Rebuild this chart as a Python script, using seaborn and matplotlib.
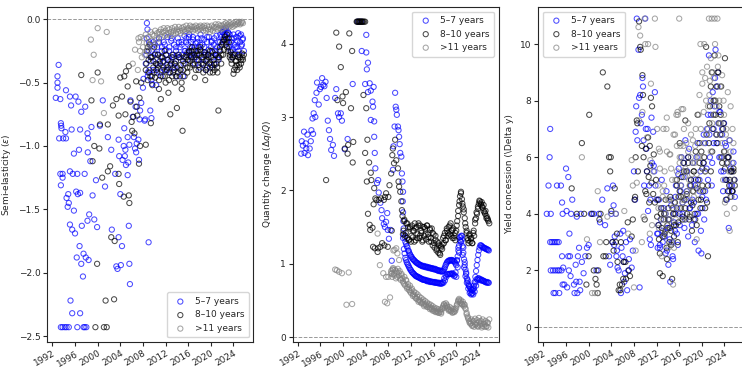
import numpy as np
import pandas as pd
import matplotlib
matplotlib.use("Agg")
import matplotlib.pyplot as plt
import seaborn as sns

sns.set_style("ticks")
plt.rcParams['font.family'] = ['DejaVu Sans']
plt.rcParams['font.size'] = 6.5

groups = ["5–7 years", "8–10 years", ">11 years"]
colors = {"5–7 years": "blue", "8–10 years": "black", ">11 years": "gray"}
xticks = [1992, 1996, 2000, 2004, 2008, 2012, 2016, 2020, 2024]
ylabels = ["Semi-elasticity ($\\varepsilon$)", "Quantity change ($\\Delta q/Q$)", "Yield concession (\\Delta y)"]

# ---------------- Panel 1: semi-elasticity ----------------
p1_blue_sparse = [(1992.6,-0.62),(1993.1,-0.36),(1992.9,-0.45),(1992.9,-0.50),(1992.9,-0.54),(1993.4,-0.63),
    (1993.2,-0.94),(1993.5,-0.82),(1993.6,-0.86),(1993.55,-0.84),(1993.9,-0.94),(1994.3,-0.89),(1994.4,-0.94),
    (1994.4,-0.56),(1995.1,-0.61),(1995.3,-0.68),(1995.4,-0.87),(1993.4,-1.22),(1993.8,-1.22),(1993.5,-1.31),
    (1993.8,-1.25),(1994.5,-1.41),(1994.8,-1.38),(1994.7,-1.48),(1994.9,-1.45),(1995.1,-1.20),(1995.1,-1.62),
    (1995.5,-1.66),(1995.6,-1.22),(1995.8,-1.06),(1995.8,-1.51),(1996.0,-1.69),(1996.2,-1.36),(1996.4,-1.22),
    (1996.5,-1.38),(1996.3,-1.88),(1996.1,-0.61),(1996.6,-0.65),(1996.7,-1.03),(1996.9,-0.87),(1997.1,-0.73),
    (1996.8,-1.79),(1996.9,-1.37),(1997.1,-1.93),(1997.2,-1.63),(1997.4,-2.03),(1997.5,-1.85),(1997.7,-1.22),
    (1997.8,-0.69),(1997.9,-1.88),(1998.2,-1.59),(1998.2,-0.90),(1998.3,-0.94),(1998.25,-1.05),(1998.4,-1.90),
    (1998.5,-1.54),(1998.7,-1.12),(1998.9,-0.85),(1999.1,-1.39),(1999.4,-1.58),(1999.7,-1.27),(1999.9,-1.64),
    (2000.4,-0.84),(2000.9,-0.64),(2001.3,-1.32),(2001.8,-0.93),(2002.4,-1.03),(2002.5,-1.66),(2003.1,-1.22),
    (2003.3,-1.95),(2003.5,-1.97),(2003.7,-1.72),(2003.7,-0.95),(2003.8,-1.08),(2004.0,-1.38),(2004.1,-1.94),
    (2004.3,-1.79),(2004.4,-1.11),(2004.6,-1.00),(2004.7,-0.86),(2004.8,-1.08),(2004.9,-1.03),(2005.0,-1.15),
    (2005.3,-1.23),(2005.4,-1.13),(2005.3,-0.93),(2005.5,-1.63),(2005.6,-1.93),(2005.7,-2.09),(2005.6,-0.99),
    (2005.8,-0.64),(2006.2,-0.77),(2006.4,-0.93),(2006.6,-1.02),(2006.7,-0.69),(2006.8,-1.05),(2006.9,-0.98),
    (2007.2,-0.95),(2007.3,-1.11),(2007.4,-0.79),(2007.5,-0.72),(2007.7,-0.66),(2008.0,-0.54),(2008.1,-0.47),
    (2008.3,-0.80),(2008.4,-0.79),(2008.7,-0.03),(2008.8,-0.08),(2009.0,-1.76),(2009.3,-0.72),(2009.5,-0.78),
    (2009.6,-0.51),(1993.5,-2.43),(1993.8,-2.43),(1994.2,-2.43),(1994.5,-2.43),(1994.9,-2.43),(1996.4,-2.43),
    (1997.5,-2.43),(1997.7,-2.43),(1998.0,-2.43),(1995.2,-2.22),(1995.5,-2.32),(1996.9,-2.32)]
p1_black_sparse = [(1997.1,-0.44),(1998.9,-0.64),(1999.4,-1.00),(1999.1,-1.12),(2000.0,-0.42),(2000.3,-1.02),
    (2000.4,-0.83),(1999.9,-1.93),(1999.6,-2.43),(2000.8,-1.25),(2001.1,-2.43),(2001.6,-2.43),(2001.4,-2.22),
    (2001.8,-1.20),(2001.8,-0.83),(2002.2,-1.16),(2002.4,-1.72),(2002.7,-0.68),(2003.0,-1.75),(2002.9,-2.21),
    (2003.3,-0.63),(2003.7,-0.76),(2003.8,-1.30),(2003.7,-1.22),(2004.0,-0.46),(2004.3,-0.61),(2004.6,-1.40),
    (2004.7,-0.45),(2004.9,-0.75),(2005.0,-0.41),(2005.3,-0.53),(2005.5,-1.39),(2005.6,-1.45),(2005.5,-0.37),
    (2005.8,-0.65),(2006.0,-0.81),(2006.1,-0.88),(2006.3,-0.77),(2006.5,-0.90),(2006.8,-0.49),(2006.9,-0.69),
    (2007.0,-0.76),(2007.3,-1.14),(2007.4,-0.62),(2007.5,-1.00),(2007.7,-0.50),(2008.5,-0.99),(2009.4,-0.82)]
p1_gray_sparse = [(1998.8,-0.16),(1999.3,-0.28),(1999.1,-0.48),(2000.0,-0.07),(2000.6,-0.49),(2001.1,-0.74),
    (2001.6,-0.10),(2006.2,-0.35),(2006.6,-0.24),(2007.1,-0.40),(2007.3,-0.18),(2007.6,-0.14),(2007.8,-0.30),
    (2007.2,-0.15),(2007.5,-0.25)]

p1_blue_dense = [-0.35,-0.15,-0.45,-0.25,-0.40,-0.20, -0.48,-0.30,-0.18,-0.42,-0.27,-0.52,
    -0.22,-0.38,-0.15,-0.33,-0.45,-0.25, -0.30,-0.18,-0.40,-0.24,-0.36,-0.14,
    -0.32,-0.22,-0.42,-0.17,-0.28,-0.38, -0.20,-0.35,-0.25,-0.45,-0.15,-0.30,
    -0.22,-0.40,-0.18,-0.28,-0.35,-0.13, -0.25,-0.15,-0.32,-0.20,-0.12,-0.28,
    -0.18,-0.30,-0.14,-0.24,-0.35,-0.19, -0.27,-0.15,-0.22,-0.38,-0.12,-0.25,
    -0.20,-0.32,-0.16,-0.26,-0.40,-0.18, -0.28,-0.14,-0.34,-0.22,-0.17,-0.30,
    -0.20,-0.36,-0.25,-0.13,-0.30,-0.18, -0.24,-0.12,-0.20,-0.10,-0.16,-0.08,
    -0.13,-0.07,-0.18,-0.10,-0.22,-0.12, -0.25,-0.15,-0.30,-0.12,-0.20,-0.27,
    -0.14,-0.22,-0.11,-0.28,-0.18,-0.12, -0.20,-0.15,-0.25]
p1_blue_dense2 = [-0.28,-0.42,-0.18,-0.33, -0.25,-0.40,-0.20,-0.35, -0.28,-0.18,-0.42,-0.22,
    -0.34,-0.20,-0.28,-0.40, -0.25,-0.33,-0.15,-0.30, -0.38,-0.22,-0.28,-0.18,
    -0.30,-0.20,-0.45,-0.25, -0.18,-0.26,-0.14,-0.22, -0.28,-0.16,-0.22,-0.30,
    -0.18,-0.32,-0.20,-0.15, -0.35,-0.22,-0.28,-0.14, -0.24,-0.38,-0.18,-0.26,
    -0.15,-0.28,-0.22,-0.32, -0.18,-0.14,-0.10,-0.12, -0.09,-0.15,-0.11,-0.20,
    -0.18,-0.24,-0.15,-0.22, -0.17,-0.25,-0.13,-0.21, -0.16]
p1_black_dense = [-0.40,-0.25,-0.48,-0.32,-0.20,-0.45, -0.30,-0.52,-0.38,-0.22,-0.46,-0.35,
    -0.42,-0.28,-0.55,-0.35,-0.63,-0.30, -0.45,-0.38,-0.25,-0.50,-0.40,-0.32,
    -0.58,-0.42,-0.75,-0.35,-0.45,-0.28, -0.40,-0.50,-0.33,-0.70,-0.42,-0.30,
    -0.45,-0.36,-0.50,-0.88,-0.40,-0.30, -0.35,-0.28,-0.42,-0.32,-0.25,-0.38,
    -0.30,-0.22,-0.36,-0.28,-0.46,-0.25, -0.32,-0.25,-0.40,-0.28,-0.22,-0.35,
    -0.30,-0.42,-0.26,-0.48,-0.33,-0.38, -0.28,-0.35,-0.42,-0.30,-0.25,-0.38,
    -0.32,-0.40,-0.28,-0.35,-0.42,-0.72, -0.30,-0.25,-0.35,-0.20,-0.28,-0.16,
    -0.14,-0.20,-0.12,-0.25,-0.18,-0.30, -0.26,-0.35,-0.30,-0.43,-0.28,-0.38,
    -0.33,-0.40,-0.28,-0.36,-0.30,-0.35, -0.27,-0.32,-0.28]
p1_black_dense2 = [-0.35,-0.22,-0.42,-0.30, -0.45,-0.33,-0.28,-0.40, -0.36,-0.48,-0.30,-0.40,
    -0.33,-0.45,-0.28,-0.38, -0.48,-0.36,-0.30,-0.42, -0.35,-0.45,-0.38,-0.28,
    -0.40,-0.55,-0.33,-0.45, -0.30,-0.38,-0.26,-0.33, -0.25,-0.35,-0.30,-0.40,
    -0.28,-0.36,-0.24,-0.30, -0.36,-0.28,-0.40,-0.32, -0.30,-0.25,-0.36,-0.42,
    -0.35,-0.28,-0.38,-0.30, -0.22,-0.28,-0.18,-0.24, -0.16,-0.22,-0.15,-0.28,
    -0.32,-0.28,-0.40,-0.33, -0.36,-0.30,-0.38,-0.32, -0.30]
p1_gray_dense = [-0.22,-0.15,-0.28,-0.12,-0.19,-0.25, -0.14,-0.20,-0.10,-0.17,-0.12,-0.22,
    -0.13,-0.09,-0.16,-0.11,-0.18,-0.10, -0.12,-0.08,-0.14,-0.10,-0.07,-0.13,
    -0.09,-0.12,-0.07,-0.11,-0.08,-0.13, -0.10,-0.07,-0.12,-0.09,-0.06,-0.11,
    -0.08,-0.10,-0.06,-0.09,-0.11,-0.07, -0.09,-0.06,-0.08,-0.10,-0.05,-0.08,
    -0.07,-0.09,-0.05,-0.08,-0.06,-0.09, -0.06,-0.08,-0.05,-0.07,-0.09,-0.06,
    -0.08,-0.05,-0.07,-0.06,-0.09,-0.05, -0.07,-0.09,-0.05,-0.08,-0.06,-0.10,
    -0.08,-0.05,-0.09,-0.06,-0.07,-0.04, -0.06,-0.08,-0.04,-0.07,-0.05,-0.08,
    -0.05,-0.07,-0.04,-0.06,-0.03,-0.05, -0.04,-0.06,-0.03,-0.05,-0.04,-0.06,
    -0.03,-0.05,-0.04,-0.02,-0.04,-0.03, -0.02,-0.04,-0.03,-0.02,-0.03]

# ---------------- Panel 2: quantity change ----------------
p2_blue_sparse = [(1992.6,2.50),(1992.7,2.67),(1992.9,2.61),(1993.1,2.80),(1993.2,2.51),(1993.4,2.64),
    (1993.5,2.57),(1993.8,2.48),(1993.7,2.76),(1994.1,2.57),(1994.3,2.67),(1994.4,2.82),(1994.6,2.98),
    (1994.7,2.77),(1994.8,3.05),(1995.0,3.23),(1995.1,3.00),(1995.3,3.33),(1995.4,3.47),(1995.7,3.17),
    (1995.9,3.38),(1996.1,3.41),(1996.3,3.53),(1996.5,3.44),(1996.7,3.42),(1996.9,3.48),(1997.1,3.26),
    (1997.3,2.95),(1997.5,2.82),(1997.7,2.70),(1997.9,2.55),(1998.2,2.62),(1998.4,2.47),(1998.6,3.26),
    (1998.8,3.38),(1999.1,3.05),(1999.3,3.00),(1999.6,3.05),(1999.8,2.95),(2000.3,2.56),(2000.8,2.70),
    (2001.7,3.45),(2003.3,3.90),(2004.1,4.12),(2004.1,3.88),(2004.2,3.65),(2004.4,3.74),(2003.9,3.45),
    (2004.4,3.34),(2004.7,3.46),(2004.9,3.36),(2004.9,2.96),(2005.2,3.21),(2005.3,3.14),(2005.4,3.41),
    (2005.5,2.94),(2005.5,2.73),(2005.6,2.51),(2005.7,2.30),(2006.0,2.10),(2006.2,2.14),(2006.3,1.97),
    (2006.6,1.83),(2006.8,1.73),(2006.9,1.62),(2007.2,1.54),(2007.4,1.50),(2007.6,1.57),(2007.8,1.69),
    (2007.9,1.46),(2008.1,1.34),(2008.4,1.46),(2008.6,1.04),(2008.8,2.28),(2008.9,2.60),(2009.1,2.87),
    (2009.2,3.33),(2009.3,3.14),(2009.4,3.10),(2009.5,3.03),(2009.7,2.87),(2009.8,2.82),(2009.9,2.73),
    (2010.0,2.63),(2010.1,2.51),(2010.3,2.46),(2010.4,2.23),(2010.5,2.12),(2010.6,1.98),(2010.55,1.85),
    (2010.6,1.70),(2010.65,1.58),(2010.7,1.48),(2010.6,1.35),(2002.6,4.30),(2003.2,4.30)]
p2_black_sparse = [(1997.0,2.14),(1998.8,4.15),(1999.3,3.96),(1999.6,3.68),(1999.0,3.23),(1999.9,3.28),
    (2000.0,3.19),(2000.3,2.57),(2000.5,3.34),(2000.8,2.50),(2000.9,2.62),(2001.1,4.14),(2001.4,3.12),
    (2001.6,3.90),(2001.7,2.38),(2001.8,2.66),(2002.4,4.30),(2002.5,4.30),(2002.7,4.30),(2002.8,4.30),
    (2002.9,4.30),(2003.0,4.30),(2003.1,4.30),(2003.3,4.30),(2003.4,4.30),(2003.5,4.30),(2003.7,4.30),
    (2003.9,4.30),(2003.6,3.30),(2003.9,2.51),(2004.1,3.12),(2004.2,2.12),(2004.3,2.69),(2004.4,1.68),
    (2004.6,2.38),(2004.7,1.53),(2004.8,1.46),(2004.9,2.24),(2005.0,2.14),(2005.2,1.49),(2005.3,1.23),
    (2005.4,1.81),(2005.5,2.03),(2005.6,1.21),(2005.7,1.89),(2005.9,1.87),(2006.1,1.16),(2006.2,1.21),
    (2006.3,1.87),(2006.6,1.23),(2006.7,1.89),(2006.9,1.28),(2007.2,1.87),(2007.3,1.25),(2007.4,1.91),
    (2007.6,1.96),(2007.9,1.23),(2008.0,1.91),(2008.2,2.07),(2008.5,2.23),(2008.6,1.45),(2008.7,2.48),
    (2008.8,2.57),(2009.0,2.37),(2009.2,2.69),(2009.4,2.41),(2009.7,2.30),(2009.8,2.12),(2009.9,2.05),
    (2010.1,1.98),(2010.3,1.85),(2010.4,1.73)]
p2_gray_sparse = [(1998.6,0.92),(1998.9,0.91),(1999.3,0.89),(1999.8,0.87),(2001.0,0.88),(2000.6,0.44),
    (2001.6,0.45),(2006.1,1.41),(2006.5,0.98),(2007.1,0.87),(2007.4,0.48),(2007.8,0.46),(2008.0,0.82),
    (2008.3,0.54),(2008.5,0.87),(2008.9,1.18),(2009.1,1.19),(2009.4,1.21),(2009.6,1.14),(2009.9,1.05),
    (2007.6,0.82),(2008.7,0.92)]

p2_blue_upper = [1.40,1.30,1.24,1.18,1.14,1.10,1.07,1.05,1.03,1.01,1.00,0.99,0.98,0.97,0.97,0.96,0.96,
    0.95,0.95,0.94,0.94,0.93,0.93,0.92,0.91,0.91,0.90,0.90,0.91,0.95,1.00,1.03,1.04,1.04,1.05,1.04,1.02,
    0.98,1.10,1.25,1.36,1.33,1.15,0.98,0.86,0.76,0.70,0.66,0.64,0.66,0.75,0.90,1.05,1.18,1.25,1.24,1.22,
    1.21,1.20,1.19,1.18]
p2_blue_upper2 = [1.36,1.27,1.22,1.17,1.12,1.09,1.06,1.04,1.02,1.01,0.99,0.98,0.97,0.96,0.96,0.95,0.95,
    0.94,0.94,0.93,0.93,0.92,0.92,0.91,0.90,0.90,0.89,0.90,0.93,0.98,1.02,1.04,1.05,1.05,1.04,1.03,1.00,
    1.04,1.18,1.32,1.38,1.24,1.06,0.92,0.80,0.72,0.68,0.65,0.64,0.70,0.82,0.98,1.12,1.22,1.25,1.23,1.22,
    1.21,1.20,1.19]
p2_blue_lower = [1.20,1.08,1.02,0.98,0.94,0.91,0.88,0.86,0.84,0.83,0.82,0.81,0.80,0.79,0.78,0.78,0.77,
    0.77,0.76,0.76,0.75,0.75,0.75,0.74,0.74,0.74,0.73,0.73,0.74,0.77,0.82,0.85,0.86,0.86,0.87,0.86,0.84,
    0.82,0.95,1.15,1.30,1.38,1.22,1.02,0.88,0.78,0.70,0.62,0.59,0.58,0.62,0.70,0.78,0.80,0.79,0.78,0.77,
    0.76,0.75,0.75,0.74]
p2_blue_lower2 = [1.14,1.05,1.00,0.96,0.92,0.89,0.87,0.85,0.83,0.82,0.81,0.80,0.79,0.78,0.78,0.77,0.76,
    0.76,0.75,0.75,0.75,0.74,0.74,0.74,0.73,0.73,0.73,0.75,0.80,0.84,0.86,0.86,0.86,0.86,0.85,0.83,0.88,
    1.05,1.22,1.36,1.30,1.12,0.95,0.83,0.74,0.66,0.60,0.58,0.60,0.66,0.74,0.79,0.80,0.78,0.77,0.77,0.76,
    0.75,0.74,0.74]
p2_black_band = [1.65,1.45,1.58,1.38,1.55,1.35, 1.50,1.33,1.48,1.30,1.52,1.36,
    1.45,1.55,1.32,1.50,1.40,1.55, 1.35,1.52,1.42,1.30,1.50,1.38,
    1.48,1.33,1.52,1.40,1.30,1.46, 1.35,1.48,1.25,1.40,1.22,1.32,
    1.18,1.30,1.15,1.25,1.12,1.22, 1.20,1.35,1.28,1.42,1.32,1.45,
    1.38,1.50,1.40,1.55,1.45,1.35, 1.48,1.38,1.32,1.45,1.58,1.72,
    1.80,1.92,1.98,1.88,1.78,1.70, 1.62,1.50,1.42,1.35,1.28,1.38,
    1.30,1.35,1.28,1.42,1.38,1.55, 1.62,1.68,1.75,1.82,1.85,1.80,
    1.84,1.76,1.80,1.70,1.72,1.65, 1.62,1.58,1.55]
p2_black_band2 = [1.40,1.60,1.42,1.55, 1.32,1.50,1.38,1.45, 1.30,1.48,1.35,1.52, 1.38,1.45,1.32,1.50,
    1.40,1.52,1.36,1.48, 1.30,1.42,1.28,1.38, 1.20,1.28,1.14,1.24, 1.26,1.38,1.32,1.48,
    1.42,1.52,1.38,1.46, 1.35,1.42,1.52,1.65, 1.85,1.96,1.82,1.74, 1.55,1.45,1.32,1.40,
    1.34,1.28,1.45,1.60, 1.70,1.78,1.86,1.82, 1.78,1.72,1.68,1.62, 1.60]
p2_gray_band = [0.90,0.82,0.94,0.86,0.92,0.80, 0.88,0.93,0.84,0.90,0.78,0.86,
    0.80,0.74,0.82,0.70,0.77,0.68, 0.72,0.64,0.70,0.60,0.66,0.58,
    0.62,0.55,0.60,0.52,0.58,0.50, 0.55,0.48,0.53,0.46,0.51,0.44,
    0.49,0.43,0.47,0.41,0.45,0.40, 0.44,0.38,0.42,0.36,0.40,0.35,
    0.39,0.34,0.38,0.33,0.37,0.34, 0.38,0.42,0.45,0.40,0.46,0.42,
    0.40,0.36,0.41,0.35,0.39,0.34, 0.38,0.34,0.36,0.40,0.45,0.50,
    0.52,0.47,0.50,0.45,0.48,0.42, 0.44,0.38,0.33,0.28,0.24,0.20,
    0.18,0.24,0.15,0.21,0.14,0.25, 0.17,0.23,0.14,0.26,0.16,0.22,
    0.13,0.24,0.18,0.14,0.22,0.15, 0.20,0.13,0.24]
p2_gray_band2 = [0.86,0.92,0.84,0.90, 0.82,0.88,0.80,0.84, 0.76,0.72,0.78,0.66, 0.68,0.62,0.64,0.56,
    0.58,0.53,0.55,0.48, 0.50,0.46,0.48,0.42, 0.45,0.41,0.43,0.38, 0.40,0.36,0.38,0.34,
    0.36,0.33,0.35,0.32, 0.40,0.44,0.42,0.44, 0.38,0.37,0.36,0.33, 0.35,0.38,0.43,0.48,
    0.50,0.46,0.44,0.45, 0.40,0.31,0.26,0.22, 0.19,0.16,0.22,0.17, 0.19,0.15,0.21,0.18,
    0.15,0.20,0.17,0.14, 0.19]

# ---------------- Panel 3: yield concession ----------------
p3_blue_sparse = [(1992.6,4.0),(1992.9,5.0),(1993.1,6.0),(1993.2,7.0),(1993.3,4.0),(1993.2,3.0),(1993.5,3.0),
    (1993.8,3.0),(1994.1,3.0),(1994.4,3.0),(1994.7,3.0),(1993.3,2.0),(1993.7,2.0),(1994.1,2.0),(1994.5,2.0),
    (1994.8,2.0),(1995.2,2.0),(1993.8,1.2),(1994.1,1.2),(1994.8,1.2),(1994.4,5.0),(1995.1,5.0),(1995.3,4.4),
    (1995.4,4.0),(1995.3,2.5),(1995.5,2.1),(1995.4,1.5),(1995.7,1.5),(1996.0,5.6),(1996.1,4.1),(1996.4,5.3),
    (1996.4,2.5),(1996.5,2.0),(1996.6,3.3),(1996.7,2.5),(1996.8,1.8),(1996.9,4.0),(1997.1,4.5),(1996.2,1.4),
    (1997.4,1.5),(1997.5,1.2),(1997.7,2.2),(1997.8,1.6),(1997.9,3.9),(1998.0,1.2),(1998.1,2.5),(1998.3,2.8),
    (1998.4,1.6),(1998.5,1.3),(1998.6,4.0),(1998.8,2.3),(1999.1,1.9),(1999.4,2.5),(1999.7,2.8),(2000.0,2.9),
    (2000.4,4.0),(2000.9,4.0),(2001.4,2.0),(2001.8,4.0),(2002.0,3.7),(2002.4,4.5),(2002.9,3.6),(2003.3,4.9),
    (2003.6,2.5),(2003.8,2.2),(2004.0,4.0),(2004.2,3.0),(2004.3,5.0),(2004.4,4.3),(2004.5,2.9),(2004.6,3.2),
    (2004.8,4.0),(2004.9,2.5),(2005.0,2.7),(2005.1,2.1),(2005.3,2.0),(2005.6,3.3),(2005.7,1.2),(2005.8,2.8),
    (2006.0,2.5),(2006.1,3.4),(2006.2,2.3),(2006.3,1.6),(2006.4,1.9),(2006.6,3.0),(2006.8,1.3),(2007.0,2.0),
    (2007.1,2.4),(2007.3,3.1),(2007.6,2.1),(2007.8,2.7),(2008.0,5.5),(2008.2,4.5),(2008.3,6.9),(2008.4,7.8),
    (2008.5,10.9),(2008.6,6.6),(2008.8,9.8),(2008.9,8.1),(2009.0,1.4),(2009.1,8.2),(2009.2,7.2),(2009.4,7.5),
    (2009.5,8.8),(2009.6,8.5),(2009.7,6.6),(2009.8,5.0),(2010.0,10.9),(2010.1,7.0),(2010.2,6.3),(2010.3,5.5),
    (2010.4,7.0),(2010.5,4.1),(2010.7,5.0),(2010.8,3.1),(2010.9,4.5),(2011.0,2.9),(2011.1,7.4),(2011.2,5.8),
    (2011.4,6.9),(2011.5,5.7),(2011.6,5.5),(2011.7,8.3),(2011.8,5.0),(2012.0,4.5),(2012.1,3.3),(2012.2,2.8)]
p3_black_sparse = [(1997.0,4.9),(1997.9,4.0),(1998.8,6.5),(1999.2,4.0),(1999.6,1.5),(2000.0,2.5),(2000.1,7.5),
    (2000.6,4.0),(2000.9,2.0),(2001.2,1.7),(2001.4,1.5),(2001.6,1.2),(2001.7,2.0),(2001.9,3.8),(2002.1,4.0),
    (2002.5,9.0),(2002.6,2.5),(2003.0,2.5),(2003.1,3.0),(2003.3,8.5),(2003.6,6.0),(2003.8,5.5),(2003.9,6.0),
    (2004.0,4.1),(2004.2,3.0),(2004.4,2.7),(2004.6,4.9),(2004.8,3.0),(2005.0,3.3),(2005.1,2.3),(2005.3,1.3),
    (2005.5,1.5),(2005.6,1.3),(2005.7,3.0),(2005.9,1.5),(2006.1,1.7),(2006.2,2.3),(2006.5,2.3),(2006.6,1.7),
    (2006.9,3.7),(2007.1,2.0),(2007.3,1.8),(2007.6,3.2),(2007.8,3.8),(2008.1,4.5),(2008.2,4.6),(2008.3,6.0),
    (2008.5,7.3),(2008.6,7.2),(2008.7,5.5),(2008.9,10.8),(2009.1,9.9),(2009.2,9.8),(2009.4,6.4),(2009.5,8.9),
    (2009.6,8.2),(2009.7,6.0),(2009.9,3.8),(2010.0,4.8),(2010.1,6.3),(2010.2,4.7),(2010.3,5.5),(2010.5,6.7),
    (2010.6,5.3),(2010.7,4.4),(2010.8,6.4),(2010.9,5.7),(2011.0,8.1),(2011.1,5.1),(2011.2,7.8),(2011.4,4.7),
    (2011.5,6.1),(2011.7,4.4),(2011.9,5.2),(2012.1,3.9)]
p3_gray_sparse = [(1998.8,6.0),(1999.7,3.1),(2000.6,1.2),(2001.1,1.2),(2001.6,1.2),(2001.6,4.8),(2002.0,3.0),
    (2003.3,3.9),(2004.8,4.0),(2006.3,4.1),(2007.0,3.3),(2007.6,5.9),(2007.8,5.0),(2008.0,1.4),(2008.3,2.7),
    (2008.5,5.1),(2008.8,10.6),(2008.9,7.3),(2009.1,10.3),(2009.4,3.0),(2009.5,7.6),(2009.7,3.9),(2009.9,10.9),
    (2010.0,10.0),(2010.3,6.7),(2010.5,10.0),(2010.8,3.3),(2011.0,8.6),(2011.2,3.6),(2011.7,10.9),(2011.8,9.9),
    (2012.1,7.0),(2012.4,6.3),(2013.2,7.0),(2013.8,7.4),(2014.3,6.1),(2015.0,6.8),(2015.5,7.5),(2015.7,7.6),
    (2016.0,10.9),(2016.2,6.4),(2016.7,7.7),(2017.1,5.5),(2011.4,5.5),(2010.9,5.9)]

p3_blue_cloud = [3.3,4.5,2.8,3.8,5.2,3.0, 4.2,3.2,2.6,4.8,3.5,2.2, 3.8,1.6,4.5,3.0,2.4,4.0,
    3.4,5.0,4.2,2.9,5.6,3.6, 4.8,6.0,4.0,5.3,3.5,6.6, 4.5,5.5,3.2,6.3,4.2,5.0,
    3.6,5.8,4.4,3.0,5.2,4.0, 6.5,2.7,4.8,5.5,2.6,4.2, 5.8,3.8,6.5,4.5,7.0,5.2,
    9.6,6.0,7.5,5.0,8.3,6.5, 7.8,9.8,6.8,8.5,7.2,6.0, 7.6,5.5,6.8,4.8,7.2,5.2,
    6.4,4.5,5.8,3.5,6.6,5.0, 5.5,4.8,6.2,5.2]
p3_blue_cloud2 = [3.6,2.9,4.2,3.4, 3.2,4.0,2.7,3.5, 3.1,4.3,2.5,3.7, 4.6,3.3,5.4,4.0, 5.0,4.4,5.8,3.8,
    4.8,6.0,4.2,5.2, 4.5,3.8,5.0,6.0, 4.0,5.2,3.4,4.6, 6.8,4.8,5.6,7.5, 6.8,8.0,5.8,7.0,
    8.8,6.5,9.0,7.6, 6.0,7.0,5.5,6.5, 5.2,6.0,4.8,5.6, 5.0,5.8,4.6]
p3_black_cloud = [4.5,3.1,1.9,4.0,3.5,1.8, 3.8,3.3,4.5,2.8,3.6,4.2, 3.0,4.6,3.4,1.7,4.0,3.2,
    4.4,3.6,5.0,3.0,4.6,6.5, 4.2,5.3,3.8,5.8,4.5,7.3, 5.5,4.0,6.0,3.8,5.0,4.4,
    3.4,4.8,5.5,4.0,6.2,3.6, 7.5,4.5,5.8,4.2,6.2,5.0, 4.8,6.0,5.5,9.9,4.4,2.5,
    6.5,7.8,5.5,9.0,7.0,8.0, 9.6,7.5,8.5,6.5,9.0,7.8, 6.8,8.5,5.8,7.0,6.2,9.5,
    4.5,5.8,4.8,6.0,5.2,4.6, 5.5,4.8,5.6,5.2]
p3_black_cloud2 = [3.6,2.6,4.2,3.2, 4.0,3.4,2.4,3.8, 3.5,2.9,4.2,3.6, 4.0,5.2,3.7,4.8, 4.6,3.9,5.5,4.2,
    4.7,5.8,3.9,5.2, 4.3,5.5,3.8,4.9, 5.2,6.5,4.5,5.6, 5.8,4.2,6.8,5.0, 7.2,8.5,6.2,7.5,
    8.0,6.8,9.0,7.2, 7.5,6.0,7.2,5.6, 5.2,6.0,5.0,5.5, 4.8,5.5,5.0]
p3_gray_cloud = [5.0,3.5,6.2,4.2,2.5,4.8, 3.2,5.5,4.0,7.0,3.6,2.8, 4.5,6.1,3.0,5.2,1.5,4.4,
    6.8,3.8,5.5,7.5,4.2,6.0, 5.0,7.7,4.5,6.4,3.8,5.6, 6.5,4.8,7.2,5.2,4.0,6.0,
    5.4,6.6,4.6,5.8,7.0,3.1, 5.0,7.5,6.0,10.0,4.8,8.6, 6.5,10.0,5.5,8.0,9.2,7.0,
    10.9,8.7,6.2,10.9,9.0,7.5, 10.9,8.0,6.8,10.9,9.6,7.2, 8.5,6.0,8.9,5.2,7.5,4.4,
    6.8,4.0,8.3,5.5,3.4,6.2, 4.6,7.0,5.2,4.2]
p3_gray_cloud2 = [4.2,5.6,3.8,4.6, 5.0,3.4,6.2,4.5, 3.8,5.6,4.2,2.8, 5.2,6.4,4.6,5.8, 6.0,4.4,7.0,5.3,
    4.6,6.2,5.0,6.8, 5.8,4.8,6.4,5.4, 6.0,8.2,7.0,9.0, 7.6,8.8,6.8,7.8, 8.2,9.5,7.2,8.8,
    10.0,7.8,9.2,8.0, 7.2,6.5,8.0,6.2, 7.0,5.8,6.6,7.8, 5.8,6.5,5.0]


def series(sparse, tracks):
    """sparse: list of (year, value); tracks: list of (first year, step in years, values)."""
    xs = [p[0] for p in sparse]
    ys = [p[1] for p in sparse]
    for start, step, vals in tracks:
        xs += list(start + np.arange(len(vals)) * step)
        ys += list(vals)
    return np.array(xs), np.array(ys)


panel_data = [
    {
        "5–7 years": series(p1_blue_sparse, [(2008.5, 1/6, p1_blue_dense), (2008.6, 0.25, p1_blue_dense2)]),
        "8–10 years": series(p1_black_sparse, [(2008.5, 1/6, p1_black_dense), (2008.6, 0.25, p1_black_dense2)]),
        ">11 years": series(p1_gray_sparse, [(2008.0, 1/6, p1_gray_dense)]),
    },
    {
        "5–7 years": series(p2_blue_sparse, [(2010.75, 0.25, p2_blue_upper), (2010.875, 0.25, p2_blue_upper2),
                                             (2010.75, 0.25, p2_blue_lower), (2010.875, 0.25, p2_blue_lower2)]),
        "8–10 years": series(p2_black_sparse, [(2010.5, 1/6, p2_black_band), (2010.58, 0.25, p2_black_band2)]),
        ">11 years": series(p2_gray_sparse, [(2008.5, 1/6, p2_gray_band), (2008.58, 0.25, p2_gray_band2)]),
    },
    {
        "5–7 years": series(p3_blue_sparse, [(2012.25, 1/6, p3_blue_cloud), (2012.33, 0.25, p3_blue_cloud2)]),
        "8–10 years": series(p3_black_sparse, [(2012.25, 1/6, p3_black_cloud), (2012.33, 0.25, p3_black_cloud2)]),
        ">11 years": series(p3_gray_sparse, [(2012.25, 1/6, p3_gray_cloud), (2012.33, 0.25, p3_gray_cloud2)]),
    },
]

ylims = [(-2.547, 0.097), (-0.068, 4.50), (-0.53, 11.31)]
yticks = [[0.0, -0.5, -1.0, -1.5, -2.0, -2.5], [0, 1, 2, 3, 4], [0, 2, 4, 6, 8, 10]]
legend_locs = ["lower right", "upper right", "upper left"]
lefts = [47.3, 292.7, 538.3]

W, H = 742, 367
fig = plt.figure(figsize=(W / 100, H / 100), dpi=100)

for i in range(3):
    ax = fig.add_axes([lefts[i] / W, (H - 342) / H, 206 / W, 335 / H])
    for g in groups:
        xs, ys = panel_data[i][g]
        df = pd.DataFrame({"year": xs, "value": ys})
        sns.scatterplot(data=df, x="year", y="value", ax=ax, color=colors[g],
                        facecolor="none", edgecolor=colors[g], s=14, linewidth=0.75,
                        alpha=0.7, label=g, legend=False)
    ax.axhline(0, color="gray", linestyle="--", linewidth=0.7, alpha=0.8)
    ax.set_xlim(1991.1, 2027.5)
    ax.set_ylim(*ylims[i])
    ax.set_xticks(xticks)
    ax.set_xticklabels([str(t) for t in xticks], rotation=30, ha="right", rotation_mode="anchor")
    ax.set_yticks(yticks[i])
    if i == 0:
        ax.set_yticklabels(["0.0", "\u22120.5", "\u22121.0", "\u22121.5", "\u22122.0", "\u22122.5"])
    ax.set_xlabel("")
    ax.set_ylabel(ylabels[i], fontsize=6.5)
    ax.tick_params(labelsize=6.5, length=3, width=0.8, pad=2)
    for sp in ax.spines.values():
        sp.set_linewidth(0.8)
    ax.legend(loc=legend_locs[i], fontsize=6.5, frameon=True, handletextpad=0.6, borderpad=0.5)

fig.savefig("out.png", dpi=100)
